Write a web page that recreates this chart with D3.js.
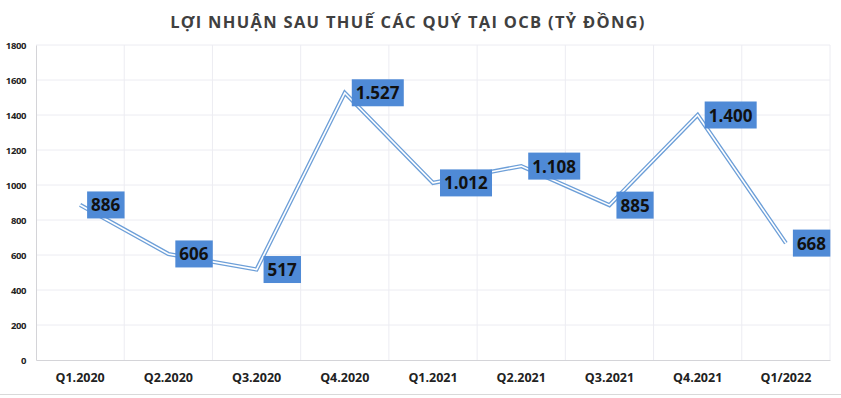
<!DOCTYPE html>
<html><head><meta charset="utf-8">
<script src="https://cdn.jsdelivr.net/npm/d3@7"></script>
<style>body{margin:0;background:#fff;}svg{display:block;}</style>
</head><body>
<svg id="c" width="841" height="398"></svg>
<script>
const categories = ["Q1.2020","Q2.2020","Q3.2020","Q4.2020","Q1.2021","Q2.2021","Q3.2021","Q4.2021","Q1/2022"];
const values = [886, 606, 517, 1527, 1012, 1108, 885, 1400, 668];
const labels = ["886","606","517","1.527","1.012","1.108","885","1.400","668"];
const yTicks = [0,200,400,600,800,1000,1200,1400,1600,1800];
const title = "LỢI NHUẬN SAU THUẾ CÁC QUÝ TẠI OCB (TỶ ĐỒNG)";

const svg = d3.select("#c");
const W = 841, H = 398;
const m = {left:36, right:11, top:45, bottom:38};
const x = d3.scaleBand().domain(categories).range([m.left, W - m.right]).padding(0);
const y = d3.scaleLinear().domain([0,1800]).range([H - m.bottom, m.top]);

svg.append("text").attr("x", 408).attr("y", 28).attr("text-anchor","middle")
  .attr("font-family","Open Sans, sans-serif").attr("font-weight","bold").attr("font-size",16.5)
  .attr("letter-spacing","1.3px").attr("fill","#404040").text(title);

// gridlines
const g = svg.append("g");
g.selectAll("line.h").data(yTicks.filter(d=>d>0)).join("line")
  .attr("x1", m.left).attr("x2", W - m.right).attr("y1", d=>y(d)).attr("y2", d=>y(d))
  .attr("stroke","#ececf2").attr("stroke-width",1);
const vb = categories.map(c => x(c) + x.bandwidth());
g.selectAll("line.v").data(vb).join("line")
  .attr("x1", d=>d).attr("x2", d=>d).attr("y1", y(1800)).attr("y2", y(0))
  .attr("stroke","#ececf2").attr("stroke-width",1);

// axes
const yAxis = svg.append("g").attr("transform",`translate(${m.left},0)`)
  .call(d3.axisLeft(y).tickValues(yTicks).tickFormat(d3.format("d")).tickSize(0).tickPadding(10));
yAxis.select(".domain").attr("stroke","#d4d4d8");
yAxis.selectAll("text").attr("font-family","Open Sans, sans-serif").attr("font-weight","bold")
  .attr("font-size",9.5).attr("letter-spacing","-0.4px").attr("fill","#222");
const xAxis = svg.append("g").attr("transform",`translate(0,${y(0)})`)
  .call(d3.axisBottom(x).tickSize(0).tickPadding(13));
xAxis.select(".domain").attr("stroke","#d4d4d8");
xAxis.selectAll("text").attr("font-family","Open Sans, sans-serif").attr("font-weight","bold")
  .attr("font-size",12.5).attr("fill","#222");

// bottom border line
svg.append("line").attr("x1",0).attr("x2",W).attr("y1",394.5).attr("y2",394.5).attr("stroke","#d9d9d9");

// double line
const line = d3.line().x((d,i)=>x(categories[i]) + x.bandwidth()/2).y(d=>y(d));
svg.append("path").datum(values).attr("d", line).attr("fill","none")
  .attr("stroke","#6d9fd8").attr("stroke-width",4.2).attr("stroke-linejoin","miter");
svg.append("path").datum(values).attr("d", line).attr("fill","none")
  .attr("stroke","#ffffff").attr("stroke-width",1.6).attr("stroke-linejoin","miter");

// labels
const lg = svg.append("g");
values.forEach((v,i)=>{
  const px = x(categories[i]) + x.bandwidth()/2, py = y(v);
  const t = lg.append("text").attr("x", px + 11).attr("y", py + 6.5)
    .attr("font-family","Open Sans, sans-serif").attr("font-weight","bold").attr("font-size",17)
    .attr("fill","#111").text(labels[i]);
  const bb = t.node().getBBox();
  lg.insert("rect","text").attr("x", px + 7).attr("y", py - 13.5)
    .attr("width", bb.width + 8).attr("height", 27).attr("fill","#4f8ad6");
});
</script>
</body></html>
